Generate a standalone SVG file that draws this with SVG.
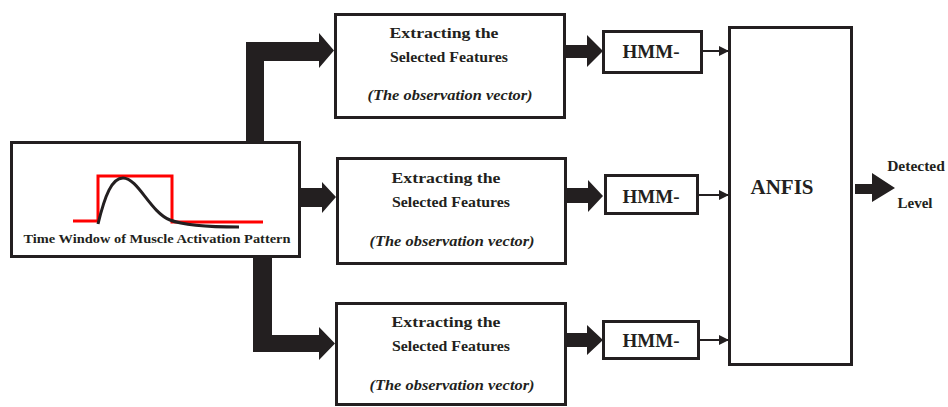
<svg xmlns="http://www.w3.org/2000/svg" width="948" height="407" viewBox="0 0 948 407">
<style>
.box{fill:#fff;stroke:#231f20;stroke-width:3}
.thick{fill:#231f20}
.thin{stroke:#231f20;stroke-width:2;fill:none}
text{font-family:"Liberation Serif","Times New Roman",serif;font-weight:bold;fill:#231f20;text-anchor:middle}
.it{font-style:italic}
</style>
<defs>
<marker id="ah" markerWidth="10" markerHeight="10" refX="9" refY="5" orient="auto" markerUnits="userSpaceOnUse">
<path d="M0,0 L10,5 L0,10 Z" fill="#231f20"/>
</marker>
</defs>
<rect width="948" height="407" fill="#fff"/>
<g id="connectors">
<polygon class="thick" points="246,142 246,42 319,42 319,33 334,50.5 319,68 319,61 264,61 264,142"/>
<polygon class="thick" points="300,188 322,188 322,182 336,197 322,213 322,207 300,207"/>
<polygon class="thick" points="253,256 253,352 319,352 319,360 335,343.5 319,327 319,335 272,335 272,256"/>
<polygon class="thick" points="565,45 587,45 587,35 603,51 587,67 587,58 565,58"/>
<polygon class="thick" points="566,188 588,188 588,180 603,196 588,212 588,203 566,203"/>
<polygon class="thick" points="566,333 587,333 587,325 603,340 587,355 587,347 566,347"/>
<line class="thin" x1="702" y1="51" x2="728" y2="51" marker-end="url(#ah)"/>
<line class="thin" x1="698" y1="195" x2="728" y2="195" marker-end="url(#ah)"/>
<line class="thin" x1="699" y1="340" x2="728" y2="340" marker-end="url(#ah)"/>
<polygon class="thick" points="855,184 872,184 872,173 895,188 872,202 872,194 855,194"/>
</g>
<g id="input">
<rect class="box" x="11.5" y="142.5" width="288" height="114"/>
<polyline points="73,221 98,221 98,176 172,176 172,222 263,222" fill="none" stroke="#ff0000" stroke-width="3"/>
<path d="M98,224 C105,195 112,178 123,178 C138,178 150,212 170,220 C185,226 215,227 239,227" fill="none" stroke="#231f20" stroke-width="3"/>
<text x="157" y="243" font-size="13.5" textLength="267" lengthAdjust="spacingAndGlyphs">Time Window of Muscle Activation Pattern</text>
</g>
<g id="feat1">
<rect class="box" x="335.5" y="14.5" width="229" height="103"/>
<text x="444" y="38" font-size="15.5" textLength="109" lengthAdjust="spacingAndGlyphs">Extracting the</text>
<text x="449" y="62" font-size="15.5" textLength="118" lengthAdjust="spacingAndGlyphs">Selected Features</text>
<text class="it" x="450" y="100" font-size="15.5" textLength="165" lengthAdjust="spacingAndGlyphs">(The observation vector)</text>
</g>
<g id="feat2">
<rect class="box" x="337.5" y="158.5" width="228" height="105"/>
<text x="446" y="183" font-size="15.5" textLength="109" lengthAdjust="spacingAndGlyphs">Extracting the</text>
<text x="451" y="207" font-size="15.5" textLength="118" lengthAdjust="spacingAndGlyphs">Selected Features</text>
<text class="it" x="452" y="246" font-size="15.5" textLength="165" lengthAdjust="spacingAndGlyphs">(The observation vector)</text>
</g>
<g id="feat3">
<rect class="box" x="336.5" y="303.5" width="229" height="101"/>
<text x="446" y="327" font-size="15.5" textLength="109" lengthAdjust="spacingAndGlyphs">Extracting the</text>
<text x="451" y="351" font-size="15.5" textLength="118" lengthAdjust="spacingAndGlyphs">Selected Features</text>
<text class="it" x="452" y="390" font-size="15.5" textLength="165" lengthAdjust="spacingAndGlyphs">(The observation vector)</text>
</g>
<g id="hmm1">
<rect class="box" x="603.5" y="31.5" width="98" height="41"/>
<text x="651" y="58" font-size="19">HMM-</text>
</g>
<g id="hmm2">
<rect class="box" x="605.5" y="175.5" width="92" height="38"/>
<text x="651" y="203" font-size="19">HMM-</text>
</g>
<g id="hmm3">
<rect class="box" x="603.5" y="321.5" width="95" height="37"/>
<text x="651" y="347" font-size="19">HMM-</text>
</g>
<g id="anfis">
<rect class="box" x="729.5" y="27.5" width="122" height="337"/>
<text x="782" y="194" font-size="21">ANFIS</text>
</g>
<g id="output">
<text x="916" y="171" font-size="15.5">Detected</text>
<text x="915" y="208" font-size="15">Level</text>
</g>
</svg>
